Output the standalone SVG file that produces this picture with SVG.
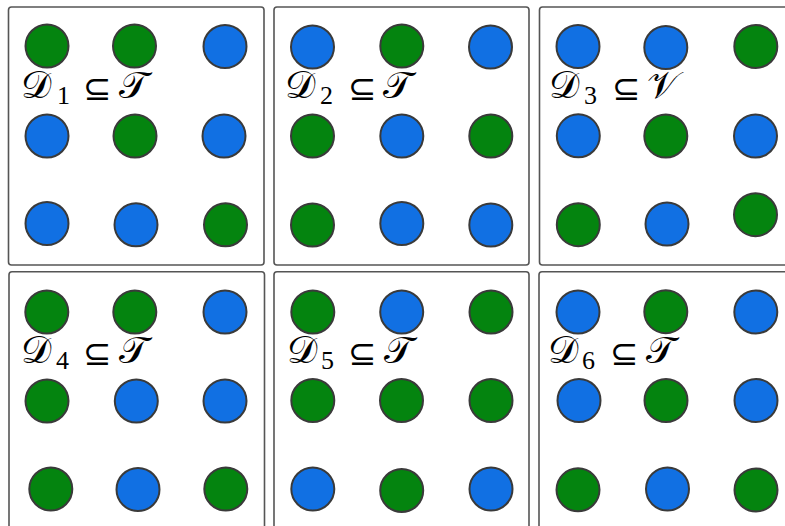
<svg xmlns="http://www.w3.org/2000/svg" width="785" height="526" viewBox="0 0 785 526">
<style>
.panel{fill:#fff;stroke:#555;stroke-width:1.6}
.g{fill:#04840f;stroke:#3a3a3a;stroke-width:2}
.b{fill:#1170e3;stroke:#3a3a3a;stroke-width:2}
.lbl{font-family:"DejaVu Serif","DejaVu Sans","Liberation Serif",serif;font-size:38px;fill:#000}
.sub{font-family:"Liberation Serif",serif;font-size:26px}
.rel{font-family:"DejaVu Sans","DejaVu Serif",serif;font-size:34px}
</style>
<rect width="785" height="526" fill="#fff"/>
<g id="panel1">
<rect class="panel" x="8.5" y="7" width="255.5" height="258" rx="3"/>
<circle class="g" cx="47" cy="46" r="21.5"/><circle class="g" cx="134.5" cy="46" r="21.5"/><circle class="b" cx="225" cy="46.5" r="21.5"/>
<circle class="b" cx="47" cy="136" r="21.5"/><circle class="g" cx="135" cy="136" r="21.5"/><circle class="b" cx="224" cy="136" r="21.5"/>
<circle class="b" cx="47" cy="223.5" r="21.5"/><circle class="b" cx="136" cy="224.8" r="21.5"/><circle class="g" cx="225.5" cy="224.8" r="21.5"/>
<text class="lbl" y="98"><tspan x="21">𝒟</tspan><tspan class="sub" x="57" y="104">1</tspan><tspan class="rel" x="83" y="100">⊆</tspan><tspan x="119" y="98">𝒯</tspan></text>
</g>
<g id="panel2">
<rect class="panel" x="274" y="7" width="255" height="258" rx="3"/>
<circle class="b" cx="312.5" cy="47" r="21.5"/><circle class="g" cx="401.8" cy="46" r="21.5"/><circle class="b" cx="490.5" cy="47" r="21.5"/>
<circle class="g" cx="312.5" cy="136" r="21.5"/><circle class="b" cx="401.8" cy="136" r="21.5"/><circle class="g" cx="490.8" cy="136" r="21.5"/>
<circle class="g" cx="312.5" cy="225" r="21.5"/><circle class="b" cx="401.8" cy="223.5" r="21.5"/><circle class="b" cx="490.8" cy="225" r="21.5"/>
<text class="lbl" y="98"><tspan x="285">𝒟</tspan><tspan class="sub" x="320" y="104">2</tspan><tspan class="rel" x="348" y="100">⊆</tspan><tspan x="383" y="98">𝒯</tspan></text>
</g>
<g id="panel3">
<rect class="panel" x="539.5" y="7" width="257" height="258" rx="3"/>
<circle class="b" cx="578" cy="46.5" r="21.5"/><circle class="b" cx="665.8" cy="47.5" r="21.5"/><circle class="g" cx="755.8" cy="46.5" r="21.5"/>
<circle class="b" cx="578.3" cy="135.8" r="21.5"/><circle class="g" cx="665.8" cy="136" r="21.5"/><circle class="b" cx="755.5" cy="136" r="21.5"/>
<circle class="g" cx="578.3" cy="224.7" r="21.5"/><circle class="b" cx="667" cy="224" r="21.5"/><circle class="g" cx="755.5" cy="214.7" r="21.5"/>
<text class="lbl" y="98"><tspan x="549">𝒟</tspan><tspan class="sub" x="584" y="104">3</tspan><tspan class="rel" x="612" y="100">⊆</tspan><tspan x="647" y="98">𝒱</tspan></text>
</g>
<g id="panel4">
<rect class="panel" x="9" y="271.7" width="255.5" height="262" rx="3"/>
<circle class="g" cx="46.8" cy="312" r="21.5"/><circle class="g" cx="134.8" cy="312" r="21.5"/><circle class="b" cx="225" cy="312" r="21.5"/>
<circle class="g" cx="47" cy="401" r="21.5"/><circle class="b" cx="136.3" cy="401" r="21.5"/><circle class="b" cx="225" cy="401" r="21.5"/>
<circle class="g" cx="50.8" cy="489" r="21.5"/><circle class="b" cx="138" cy="489.5" r="21.5"/><circle class="g" cx="225.8" cy="489" r="21.5"/>
<text class="lbl" y="363"><tspan x="21">𝒟</tspan><tspan class="sub" x="56" y="369">4</tspan><tspan class="rel" x="83" y="365">⊆</tspan><tspan x="119" y="363">𝒯</tspan></text>
</g>
<g id="panel5">
<rect class="panel" x="274" y="271.7" width="255" height="262" rx="3"/>
<circle class="g" cx="312.8" cy="312" r="21.5"/><circle class="b" cx="401.7" cy="312" r="21.5"/><circle class="g" cx="491" cy="312" r="21.5"/>
<circle class="g" cx="312.8" cy="400.5" r="21.5"/><circle class="g" cx="401.5" cy="400.5" r="21.5"/><circle class="g" cx="491" cy="400.5" r="21.5"/>
<circle class="b" cx="312.8" cy="489" r="21.5"/><circle class="g" cx="401.7" cy="490.5" r="21.5"/><circle class="b" cx="491" cy="489" r="21.5"/>
<text class="lbl" y="363"><tspan x="286.5">𝒟</tspan><tspan class="sub" x="321" y="369">5</tspan><tspan class="rel" x="348" y="365">⊆</tspan><tspan x="384" y="363">𝒯</tspan></text>
</g>
<g id="panel6">
<rect class="panel" x="539" y="271.7" width="257" height="262" rx="3"/>
<circle class="b" cx="578" cy="312" r="21.5"/><circle class="g" cx="665.8" cy="311.7" r="21.5"/><circle class="b" cx="755.8" cy="312" r="21.5"/>
<circle class="b" cx="579" cy="400.5" r="21.5"/><circle class="g" cx="666" cy="400.5" r="21.5"/><circle class="b" cx="756" cy="400.5" r="21.5"/>
<circle class="g" cx="578" cy="489.8" r="21.5"/><circle class="b" cx="667.5" cy="489" r="21.5"/><circle class="g" cx="756" cy="490" r="21.5"/>
<text class="lbl" y="363"><tspan x="547.5">𝒟</tspan><tspan class="sub" x="582" y="369">6</tspan><tspan class="rel" x="610" y="365">⊆</tspan><tspan x="646" y="363">𝒯</tspan></text>
</g>
<g id="connectors"/>
</svg>
